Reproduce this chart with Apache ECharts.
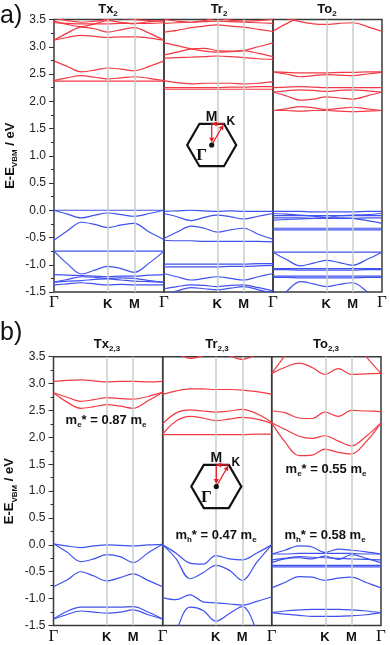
<!DOCTYPE html>
<html><head><meta charset="utf-8">
<script src="https://cdn.jsdelivr.net/npm/echarts@6.0.0/dist/echarts.min.js"></script>
<style>html,body{margin:0;padding:0;background:#fff}#c{width:390px;height:645px}</style>
</head><body><div id="c"></div><script>
// ---- k-path (fractional positions along Γ-K-M-Γ) ----
const kPos = 0.487, mPos = 0.73;
const kx = [0, 0.12, 0.25, 0.37, kPos, 0.61, mPos, 0.865, 1];
const pathTicks = [0, kPos, mPos, 1];
const pathNames = ['Γ', 'K', 'M', 'Γ'];
const yMin = -1.5, yMax = 3.5, yStep = 0.5;
const panelTitles = [['Tx','2'],['Tr','2'],['To','2'],['Tx','2,3'],['Tr','2,3'],['To','2,3']];

// ---- a) Tx2 ----
const tx2Cond = [
  [2.37,2.37,2.37,2.37,2.37,2.37,2.37,2.37,2.37],
  [2.38,2.43,2.47,2.44,2.41,2.43,2.45,2.42,2.38],
  [2.74,2.64,2.54,2.57,2.61,2.59,2.56,2.64,2.74],
  [3.12,3.17,3.21,3.19,3.17,3.18,3.18,3.16,3.12],
  [3.12,3.25,3.36,3.33,3.27,3.31,3.35,3.25,3.12],
  [3.44,3.43,3.42,3.42,3.42,3.43,3.43,3.43,3.44],
  [3.47,3.41,3.37,3.42,3.48,3.45,3.42,3.46,3.48],
  [3.52,3.48,3.45,3.47,3.50,3.52,3.50,3.48,3.47]
];
const tx2Val = [
  [0.00,0.00,0.00,0.00,0.00,0.00,0.00,0.00,0.00],
  [0.00,-0.07,-0.14,-0.09,-0.05,-0.08,-0.11,-0.06,0.00],
  [-0.55,-0.38,-0.22,-0.26,-0.32,-0.27,-0.24,-0.40,-0.54],
  [-0.75,-0.75,-0.75,-0.75,-0.75,-0.75,-0.75,-0.75,-0.75],
  [-0.75,-0.98,-1.17,-1.10,-1.03,-1.07,-1.14,-0.97,-0.75],
  [-1.18,-1.19,-1.20,-1.21,-1.22,-1.21,-1.21,-1.19,-1.18],
  [-1.32,-1.27,-1.22,-1.23,-1.25,-1.24,-1.25,-1.29,-1.32],
  [-1.32,-1.30,-1.29,-1.27,-1.26,-1.28,-1.30,-1.31,-1.32],
  [-1.37,-1.35,-1.33,-1.35,-1.37,-1.36,-1.37,-1.37,-1.37]
];
// ---- a) Tr2 ----
const tr2Cond = [
  [2.22,2.22,2.22,2.22,2.22,2.22,2.22,2.22,2.22],
  [2.25,2.25,2.25,2.25,2.25,2.26,2.26,2.27,2.27],
  [2.38,2.34,2.32,2.33,2.33,2.33,2.32,2.33,2.36],
  [2.79,2.80,2.81,2.82,2.83,2.82,2.80,2.78,2.77],
  [2.85,2.90,2.96,2.97,2.93,2.92,2.93,2.88,2.82],
  [3.07,3.02,2.96,2.92,2.90,2.91,2.93,3.00,3.07],
  [3.27,3.30,3.35,3.38,3.40,3.38,3.36,3.32,3.28],
  [3.43,3.44,3.45,3.46,3.47,3.46,3.45,3.44,3.43],
  [3.50,3.47,3.45,3.48,3.52,3.49,3.47,3.48,3.50]
];
const tr2Val = [
  [-0.02,-0.01,0.00,-0.01,-0.02,-0.01,-0.02,-0.02,-0.02],
  [-0.06,-0.12,-0.19,-0.13,-0.09,-0.12,-0.16,-0.11,-0.06],
  [-0.52,-0.40,-0.29,-0.33,-0.40,-0.36,-0.33,-0.44,-0.53],
  [-0.55,-0.56,-0.56,-0.57,-0.57,-0.57,-0.57,-0.57,-0.58],
  [-0.99,-0.99,-0.99,-0.99,-0.99,-0.99,-0.99,-0.98,-0.98],
  [-1.04,-1.04,-1.04,-1.04,-1.04,-1.03,-1.03,-1.02,-1.01],
  [-1.16,-1.22,-1.28,-1.25,-1.22,-1.25,-1.28,-1.22,-1.16],
  [-1.44,-1.40,-1.37,-1.38,-1.40,-1.38,-1.37,-1.42,-1.48],
  [-1.55,-1.48,-1.42,-1.44,-1.46,-1.43,-1.40,-1.46,-1.52]
];
// ---- a) To2 ----
const to2Cond = [
  [1.83,1.83,1.82,1.83,1.83,1.82,1.81,1.82,1.83],
  [1.83,1.86,1.90,1.88,1.85,1.87,1.89,1.86,1.83],
  [2.17,2.10,2.02,2.04,2.08,2.06,2.04,2.10,2.17],
  [2.17,2.19,2.21,2.20,2.18,2.20,2.21,2.19,2.17],
  [2.25,2.26,2.27,2.26,2.25,2.25,2.25,2.25,2.25],
  [2.54,2.50,2.45,2.47,2.49,2.48,2.47,2.50,2.53],
  [2.54,2.53,2.52,2.52,2.52,2.53,2.53,2.54,2.54],
  [3.29,3.42,3.55,3.62,3.65,3.65,3.65,3.62,3.60],
  [3.60,3.52,3.46,3.42,3.41,3.43,3.44,3.37,3.28]
];
const to2Val = [
  [-0.02,-0.02,-0.02,-0.03,-0.03,-0.03,-0.03,-0.02,-0.02],
  [-0.06,-0.07,-0.09,-0.11,-0.13,-0.10,-0.09,-0.08,-0.06],
  [-0.10,-0.10,-0.10,-0.10,-0.10,-0.10,-0.10,-0.10,-0.10],
  [-0.14,-0.14,-0.14,-0.15,-0.15,-0.15,-0.15,-0.14,-0.14],
  [-0.18,-0.17,-0.16,-0.15,-0.14,-0.14,-0.15,-0.19,-0.24],
  [-0.33,-0.33,-0.33,-0.33,-0.33,-0.33,-0.33,-0.33,-0.33],
  [-0.36,-0.36,-0.36,-0.36,-0.36,-0.36,-0.36,-0.36,-0.36],
  [-0.77,-0.77,-0.77,-0.77,-0.77,-0.77,-0.77,-0.77,-0.77],
  [-0.77,-0.90,-1.02,-0.97,-0.92,-0.96,-1.01,-0.90,-0.77],
  [-1.07,-1.07,-1.07,-1.07,-1.07,-1.07,-1.07,-1.07,-1.07],
  [-1.09,-1.09,-1.10,-1.10,-1.10,-1.10,-1.10,-1.09,-1.09],
  [-1.21,-1.21,-1.21,-1.21,-1.21,-1.21,-1.21,-1.21,-1.21],
  [-1.23,-1.23,-1.24,-1.24,-1.24,-1.24,-1.24,-1.23,-1.23],
  [-1.75,-1.50,-1.31,-1.35,-1.40,-1.36,-1.33,-1.50,-1.75]
];
// ---- b) Tx2,3 ----
const tx23Cond = [
  [3.04,3.06,3.07,3.05,3.03,3.04,3.04,3.03,3.04],
  [2.83,2.75,2.67,2.70,2.74,2.72,2.71,2.76,2.84],
  [2.83,2.66,2.54,2.57,2.61,2.58,2.54,2.68,2.84]
];
const tx23Val = [
  [0.02,-0.02,-0.05,-0.02,0.00,-0.01,-0.02,0.00,0.01],
  [0.02,-0.13,-0.31,-0.26,-0.18,-0.22,-0.33,-0.15,0.01],
  [-0.78,-0.66,-0.50,-0.58,-0.67,-0.61,-0.54,-0.66,-0.78],
  [-1.38,-1.24,-1.16,-1.16,-1.16,-1.16,-1.15,-1.25,-1.38],
  [-1.38,-1.30,-1.23,-1.25,-1.27,-1.25,-1.21,-1.30,-1.38]
];
// ---- b) Tr2,3 ----
const tr23Cond = [
  [2.80,2.86,2.90,2.90,2.89,2.89,2.88,2.85,2.80],
  [2.25,2.45,2.51,2.49,2.47,2.49,2.52,2.44,2.28],
  [2.06,2.30,2.39,2.36,2.31,2.34,2.37,2.34,2.26],
  [2.05,2.05,2.05,2.05,2.05,2.05,2.05,2.06,2.06],
  [3.70,3.58,3.47,3.52,3.60,3.52,3.45,3.55,3.70]
];
const tr23Val = [
  [0.00,-0.15,-0.34,-0.36,-0.20,-0.26,-0.28,-0.15,0.00],
  [0.00,-0.25,-0.63,-0.52,-0.38,-0.47,-0.66,-0.32,0.00],
  [-0.98,-1.02,-0.93,-1.06,-1.08,-1.10,-1.12,-1.05,-0.97],
  [-2.40,-1.65,-1.16,-1.22,-1.42,-1.28,-1.15,-1.62,-2.40]
];
// ---- b) To2,3 ----
const to23Cond = [
  [3.19,3.30,3.38,3.30,3.17,3.28,3.17,3.18,3.19],
  [3.19,3.52,3.90,4.10,4.20,4.10,3.90,3.50,3.19],
  [2.49,2.46,2.36,2.35,2.47,2.39,2.50,2.49,2.48],
  [2.27,2.15,2.02,1.98,2.03,1.93,1.84,2.02,2.27],
  [2.27,1.92,1.66,1.67,1.78,1.72,1.69,1.92,2.27]
];
const to23Val = [
  [-0.17,-0.10,-0.02,-0.04,-0.14,-0.08,-0.10,-0.13,-0.17],
  [-0.17,-0.17,-0.16,-0.16,-0.16,-0.16,-0.16,-0.17,-0.17],
  [-0.33,-0.26,-0.24,-0.26,-0.21,-0.27,-0.18,-0.25,-0.33],
  [-0.28,-0.25,-0.22,-0.23,-0.24,-0.25,-0.26,-0.27,-0.28],
  [-0.38,-0.38,-0.38,-0.38,-0.38,-0.38,-0.38,-0.38,-0.38],
  [-0.41,-0.41,-0.41,-0.41,-0.41,-0.41,-0.41,-0.41,-0.41],
  [-0.80,-0.70,-0.59,-0.60,-0.66,-0.62,-0.60,-0.70,-0.80],
  [-1.26,-1.23,-1.21,-1.20,-1.20,-1.20,-1.21,-1.23,-1.26],
  [-1.26,-1.29,-1.31,-1.33,-1.33,-1.33,-1.32,-1.30,-1.26]
];
const massLabels = [
  {panel: 3, text: ['e','0.87']},
  {panel: 4, text: ['h','0.47']},
  {panel: 5, text: ['e','0.55']},
  {panel: 5, text: ['h','0.58']}
];

// ---- layout ----
const FONT = '"Liberation Sans", Arial, Helvetica, sans-serif';
const SERIF = '"Liberation Serif", "Times New Roman", serif';
const RED = '#f23a44', BLUE = '#4052ee';
const gridBoxes = [
  {left: 54, top: 19.5, width: 110, height: 272.5},
  {left: 164, top: 19.5, width: 109, height: 272.5},
  {left: 273, top: 19.5, width: 109, height: 272.5},
  {left: 53.5, top: 356.7, width: 109.2, height: 272.6},
  {left: 162.7, top: 356.7, width: 109, height: 272.6},
  {left: 271.7, top: 356.7, width: 109.3, height: 272.6}
];
const panels = [
  [tx2Cond, tx2Val], [tr2Cond, tr2Val], [to2Cond, to2Val],
  [tx23Cond, tx23Val], [tr23Cond, tr23Val], [to23Cond, to23Val]
];

const RICH = {
  t: {fontSize: 13, fontWeight: 'bold', fontFamily: FONT, color: '#111', lineHeight: 18, verticalAlign: 'middle'},
  s: {fontSize: 8, fontWeight: 'bold', fontFamily: FONT, color: '#111', lineHeight: 8, verticalAlign: 'bottom'}
};

const grids = [], xAxes = [], yAxes = [], series = [];
gridBoxes.forEach((g, i) => {
  const first = (i % 3 === 0);
  grids.push(Object.assign({show: true, borderColor: '#3a3a3a', borderWidth: 1.5, backgroundColor: 'transparent'}, g));
  xAxes.push({
    type: 'value', gridIndex: i, min: 0, max: 1,
    axisLine: {show: false}, axisTick: {show: false}, splitLine: {show: false},
    axisLabel: {
      show: true, margin: 3,
      customValues: first ? pathTicks : pathTicks.slice(1),
      formatter: v => {
        const idx = pathTicks.indexOf(v);
        const n = pathNames[idx];
        return n === 'Γ' ? '{g|Γ}' : '{b|' + n + '}';
      },
      rich: {
        g: {fontFamily: SERIF, fontSize: 17, color: '#111', lineHeight: 16},
        b: {fontFamily: FONT, fontSize: 13, fontWeight: 'bold', color: '#111', lineHeight: 16, padding: [2, 0, 0, 0]}
      }
    }
  });
  yAxes.push({
    type: 'value', gridIndex: i, min: yMin, max: yMax, interval: yStep,
    axisLine: {show: false},
    axisTick: {show: first, length: 5, lineStyle: {color: '#333', width: 1}},
    minorTick: {show: first, splitNumber: 2, length: 3, lineStyle: {color: '#333', width: 1}},
    splitLine: {show: false},
    axisLabel: {show: first, fontSize: 12, color: '#222', fontFamily: FONT, margin: 8, formatter: v => v.toFixed(1)},
    name: first ? '{t|E-E}{s|VBM}{t| / eV}' : '',
    nameLocation: 'middle', nameGap: 35, nameRotate: 90,
    nameTextStyle: {rich: RICH}
  });
  series.push({
    type: 'line', xAxisIndex: i, yAxisIndex: i, data: [], silent: true, z: 1,
    markLine: {
      silent: true, symbol: ['none', 'none'], label: {show: false}, animation: false,
      lineStyle: {color: '#c6cdcd', width: 1.5, type: 'solid'},
      data: [{xAxis: kPos}, {xAxis: mPos}]
    }
  });
  const [cond, val] = panels[i];
  const mk = (band, color) => ({
    type: 'line', xAxisIndex: i, yAxisIndex: i, z: 3, silent: true,
    smooth: 0.35, showSymbol: false, clip: true, animation: false,
    lineStyle: {color, width: 1.2},
    data: kx.map((x, j) => [x, band[j]])
  });
  cond.forEach(b => series.push(mk(b, RED)));
  val.forEach(b => series.push(mk(b, BLUE)));
});

// ---- graphic annotations ----
const graphic = [];
function txt(x, y, text, extra) {
  graphic.push({type: 'text', x, y, z: 100, silent: true,
    style: Object.assign({text, align: 'center', verticalAlign: 'middle', fill: '#111',
      fontFamily: FONT, fontSize: 13, fontWeight: 'bold', rich: RICH}, extra || {})});
}
// panel titles
const titlePos = [[108, 9], [219, 9], [327, 9], [107, 344], [217, 344], [326, 344]];
panelTitles.forEach((t, i) => txt(titlePos[i][0], titlePos[i][1], '{t|' + t[0] + '}{s|' + t[1] + '}'));
// a) b)
txt(0, 16, 'a)', {align: 'left', fontSize: 25, fontWeight: 'normal'});
txt(0, 333, 'b)', {align: 'left', fontSize: 25, fontWeight: 'normal'});
// effective masses
const massPos = [[106, 420], [216, 535], [326, 469], [325, 535]];
massLabels.forEach((m, i) => txt(massPos[i][0], massPos[i][1],
  '{t|m}{s|' + m.text[0] + '}{t|* = ' + m.text[1] + ' m}{s|e}'));

function arrow(x1, y1, x2, y2, shrink) {
  const dx = x2 - x1, dy = y2 - y1, L = Math.hypot(dx, dy);
  const ux = dx / L, uy = dy / L;
  const ex = x2 - ux * shrink, ey = y2 - uy * shrink;
  const hl = 5, hw = 2.6;
  const bx = ex - ux * hl, by = ey - uy * hl;
  graphic.push({type: 'line', z: 101, silent: true, shape: {x1, y1, x2: bx, y2: by},
    style: {stroke: '#e8202a', lineWidth: 1.3}});
  graphic.push({type: 'polygon', z: 101, silent: true,
    shape: {points: [[ex, ey], [bx - uy * hw, by + ux * hw], [bx + uy * hw, by - ux * hw]]},
    style: {fill: '#e8202a'}});
}
function bz(cx, cy, R) {
  const h = R * Math.sqrt(3) / 2;
  graphic.push({type: 'polygon', z: 100, silent: true,
    shape: {points: [[cx + R, cy], [cx + R / 2, cy - h], [cx - R / 2, cy - h], [cx - R, cy], [cx - R / 2, cy + h], [cx + R / 2, cy + h]]},
    style: {stroke: '#111', lineWidth: 2.2, fill: 'none'}});
  const Mx = cx, My = cy - h, Kx = cx + R / 2, Ky = cy - h;
  arrow(cx, cy, Kx, Ky, 1);
  arrow(Kx, Ky, Mx, My, 0);
  arrow(Mx, My, cx, cy, 2.5);
  graphic.push({type: 'circle', z: 102, silent: true, shape: {cx, cy, r: 2.6}, style: {fill: '#111'}});
  txt(Mx, My - 7, 'M', {fontSize: 14});
  txt(Kx + 7, Ky - 2, 'K', {fontSize: 12});
  txt(cx - 10, cy + 11, 'Γ', {fontFamily: SERIF, fontSize: 17});
}
bz(211.7, 145, 24.5);
bz(216.3, 486.5, 25);

const chart = echarts.init(document.getElementById('c'), null, {renderer: 'canvas'});
chart.setOption({
  animation: false,
  backgroundColor: '#fff',
  textStyle: {fontFamily: FONT},
  grid: grids, xAxis: xAxes, yAxis: yAxes, series, graphic
});
</script></body></html>
